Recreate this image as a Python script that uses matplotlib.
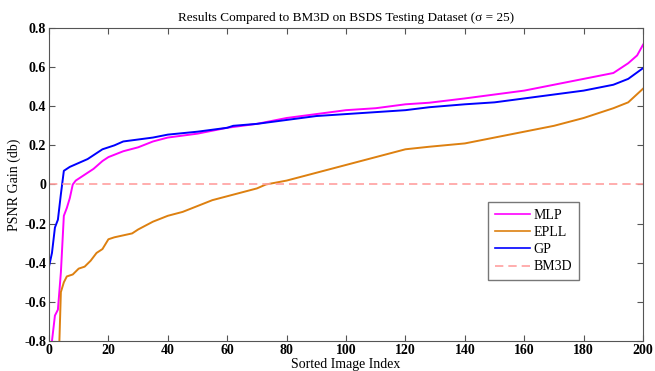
import numpy as np
import matplotlib
matplotlib.use('Agg')
import matplotlib.pyplot as plt

plt.rcParams['font.family'] = ['Liberation Serif', 'DejaVu Serif']

# sorted per-image PSNR gains over BM3D
mlp_idx = [1, 2, 3, 4, 5, 6, 7, 8, 9, 10, 12, 15, 18, 20, 25, 30, 35, 40, 50, 60, 70, 80, 90,
           100, 110, 120, 128, 140, 150, 160, 170, 180, 190, 195, 198, 200]
mlp_gain = [-0.80, -0.67, -0.64, -0.45, -0.16, -0.12, -0.07, 0.0, 0.02, 0.03, 0.05, 0.08, 0.12,
            0.14, 0.17, 0.19, 0.22, 0.24, 0.26, 0.29, 0.31, 0.34, 0.36, 0.38, 0.39, 0.41, 0.418,
            0.44, 0.46, 0.48, 0.51, 0.54, 0.57, 0.62, 0.66, 0.715]

epll_idx = [3.5, 4, 5, 6, 8, 10, 12, 14, 16, 18, 20, 22, 25, 28, 30, 35, 40, 45, 50, 55, 60,
            65, 70, 73, 80, 85, 90, 100, 110, 120, 128, 140, 150, 160, 170, 180, 190, 195, 200]
epll_gain = [-0.80, -0.55, -0.50, -0.47, -0.46, -0.43, -0.42, -0.39, -0.35, -0.33, -0.28, -0.27,
             -0.26, -0.25, -0.23, -0.19, -0.16, -0.14, -0.11, -0.08, -0.06, -0.04, -0.02, 0.0,
             0.02, 0.04, 0.06, 0.10, 0.14, 0.18, 0.193, 0.21, 0.24, 0.27, 0.30, 0.34, 0.39,
             0.42, 0.49]

gp_idx = [0, 1, 2, 3, 4, 5, 7, 10, 13, 16, 18, 20, 22, 25, 30, 35, 40, 50, 60, 62, 70, 80, 90,
          100, 110, 120, 128, 140, 150, 160, 170, 180, 190, 195, 200]
gp_gain = [-0.42, -0.35, -0.22, -0.18, -0.05, 0.07, 0.09, 0.11, 0.13, 0.16, 0.18, 0.19, 0.20,
           0.22, 0.23, 0.24, 0.255, 0.27, 0.29, 0.30, 0.31, 0.33, 0.35, 0.36, 0.37, 0.38, 0.395,
           0.41, 0.42, 0.44, 0.46, 0.48, 0.51, 0.54, 0.595]

fig = plt.figure(figsize=(6.55, 3.71), dpi=100)
ax = fig.add_axes([0.0748, 0.0809, 0.907, 0.8436])

ax.plot(mlp_idx, mlp_gain, color='#FF00FF', lw=1.4, label='MLP')
ax.plot(epll_idx, epll_gain, color='#DD8010', lw=1.4, label='EPLL')
ax.plot(gp_idx, gp_gain, color='#0000FF', lw=1.4, label='GP')
ax.plot([0, 200], [0, 0], color='#FF9F9F', lw=1.2, ls=(0, (5, 3)), label='BM3D')

ax.set_xlim(0, 200)
ax.set_ylim(-0.8, 0.8)
ax.set_xticks(np.arange(0, 201, 20))
ax.set_yticks(np.arange(-0.8, 0.81, 0.2))
ax.set_yticklabels(['-0.8', '-0.6', '-0.4', '-0.2', '0', '0.2', '0.4', '0.6', '0.8'])
ax.tick_params(direction='in', top=True, right=True, length=4, color='#555555',
               labelsize=10, pad=2)
for lab in ax.get_xticklabels() + ax.get_yticklabels():
    lab.set_fontweight('bold')
for s in ax.spines.values():
    s.set_color('#555555')

ax.set_title('Results Compared to BM3D on BSDS Testing Dataset (\u03c3 = 25)', fontsize=9.5, pad=5)
ax.set_xlabel('Sorted Image Index', fontsize=10, labelpad=1)
ax.set_ylabel('PSNR Gain (db)', fontsize=10, labelpad=2)

leg = ax.legend(loc='upper left', bbox_to_anchor=(488 / 655, 1 - 202 / 371),
                bbox_transform=fig.transFigure, fontsize=10, frameon=True, fancybox=False,
                borderaxespad=0, handlelength=2.5, borderpad=0.5, labelspacing=0.3,
                handletextpad=0.3)
leg.get_frame().set_edgecolor('#555555')
leg.get_frame().set_linewidth(1.0)
for ln in leg.get_lines():
    ln.set_linewidth(1.2)

fig.savefig('out.png', dpi=100)
